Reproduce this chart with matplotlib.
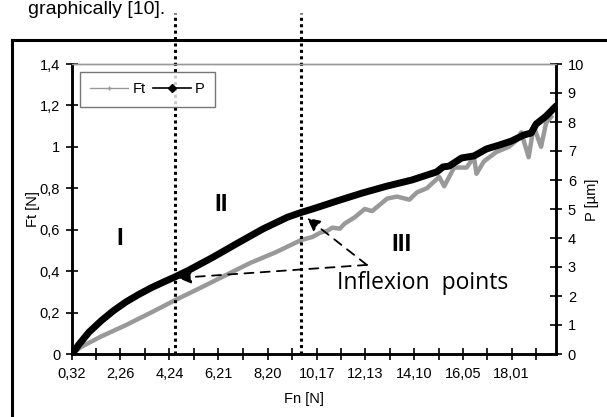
import matplotlib.pyplot as plt
from matplotlib.lines import Line2D
import numpy as np

plt.rcParams['font.family'] = ['Liberation Sans', 'DejaVu Sans']

# Data
fn_p = [0.32, 0.6, 1.0, 1.5, 2.0, 2.5, 3.0, 3.5, 4.0, 4.47, 5.0, 6.0, 7.0, 8.0, 9.0, 9.54,
        10.0, 11.0, 12.0, 13.0, 14.0, 15.0, 15.25, 15.5, 16.0, 16.5, 17.0, 17.5, 18.0,
        18.5, 18.8, 19.0, 19.4, 19.8]
p_um = [0.0, 0.33, 0.75, 1.15, 1.5, 1.8, 2.05, 2.28, 2.48, 2.66, 2.88, 3.34, 3.83, 4.31,
        4.72, 4.88, 5.0, 5.28, 5.55, 5.79, 6.0, 6.28, 6.45, 6.48, 6.76, 6.83, 7.07, 7.2,
        7.34, 7.55, 7.62, 7.93, 8.2, 8.55]

fn_ft = [0.32, 0.7, 1.5, 2.5, 3.5, 4.47, 5.5, 6.5, 7.5, 8.5, 9.54, 10.0, 10.3, 10.6, 10.8,
         11.1, 11.3, 11.7, 12.1, 12.4, 12.6, 13.0, 13.4, 13.9, 14.2, 14.6, 15.1, 15.3,
         15.7, 16.2, 16.5, 16.6, 16.9, 17.4, 17.9, 18.2, 18.4, 18.7, 18.9, 19.2, 19.4, 19.6]
ft_n = [0.0, 0.035, 0.085, 0.14, 0.20, 0.26, 0.32, 0.38, 0.44, 0.49, 0.55, 0.565, 0.585,
        0.595, 0.61, 0.605, 0.63, 0.66, 0.70, 0.69, 0.71, 0.75, 0.76, 0.745, 0.78, 0.80,
        0.855, 0.81, 0.90, 0.90, 0.95, 0.87, 0.93, 0.975, 1.0, 1.03, 1.07, 0.95, 1.10, 1.0,
        1.115, 1.145]

xtick_labels = ['0,32', '2,26', '4,24', '6,21', '8,20', '10,17', '12,13', '14,10', '16,05', '18,01']
xtick_vals = [0.32, 2.26, 4.24, 6.21, 8.20, 10.17, 12.13, 14.10, 16.05, 18.01]
inflexions = [4.47, 9.54]

fig = plt.figure(figsize=(6.07, 4.17), dpi=100)
ax = fig.add_axes([72 / 607, 1 - 354 / 417, 484 / 607, 290 / 417])
ax2 = ax.twinx()

gray = '#999999'
ax.plot(fn_ft, ft_n, color=gray, lw=3.2, solid_joinstyle='round')
ax2.plot(fn_p, p_um, color='black', lw=5, solid_capstyle='round', solid_joinstyle='round')

ax.set_xlim(0.32, 19.8)
ax.set_ylim(0, 1.4)
ax2.set_ylim(0, 10)

# ticks: one unlabelled tick between each labelled one
ticks, labels = [], []
for i, v in enumerate(xtick_vals):
    ticks.append(v)
    labels.append(xtick_labels[i])
    nxt = xtick_vals[i + 1] if i + 1 < len(xtick_vals) else v + 1.96
    ticks.append((v + nxt) / 2)
    labels.append('')
ax.set_xticks(ticks)
ax.set_xticklabels(labels)
ax.set_yticks(np.arange(0, 1.41, 0.2))
ax.set_yticklabels(['0', '0,2', '0,4', '0,6', '0,8', '1', '1,2', '1,4'])
ax2.set_yticks(range(0, 11))

fs = 10.5
for a in (ax, ax2):
    a.tick_params(direction='inout', length=9, width=1.2, labelsize=fs, pad=4)
    for s in ('left', 'right', 'bottom'):
        a.spines[s].set_linewidth(1.8)
    a.spines['top'].set_color('#999999')
    a.spines['top'].set_linewidth(1)
ax.tick_params(axis='x', pad=5)

ax.set_ylabel('Ft [N]', fontsize=fs)
ax.yaxis.label.set_va('center')
ax.yaxis.set_label_coords(-0.08, 0.50)
ax.set_xlabel('Fn [N]', fontsize=fs)
ax.xaxis.label.set_va('center')
ax.xaxis.set_label_coords(0.48, -0.155)
ax2.set_ylabel('P [µm]', fontsize=fs)
ax2.yaxis.label.set_va('center')
ax2.yaxis.set_label_coords(1.074, 0.53)

handles = [Line2D([], [], color=gray, lw=1, marker='+', markersize=3),
           Line2D([], [], color='black', lw=1.2, marker='D', markersize=4)]
leg = ax2.legend(handles, ['Ft', 'P'], ncol=2, loc='upper left',
                 bbox_to_anchor=(0.0165, 0.972), borderaxespad=0, fancybox=False,
                 edgecolor='#555555', fontsize=fs, handlelength=2.6, columnspacing=0.5,
                 handletextpad=0.3, borderpad=0.7)
leg.get_frame().set_linewidth(1)

# vertical dotted lines marking inflexions
for xv in inflexions:
    ax2.axvline(xv, ymin=0, ymax=(354 - 13) / 290, color='black', lw=2.2,
                ls=(0, (1, 1.1)), clip_on=False)

# stage labels
for txt, xv, yv in [('I', 2.23, 0.56), ('II', 6.33, 0.72), ('III', 13.6, 0.53)]:
    ax2.text(xv, yv, txt, transform=ax.transData, fontsize=17.5, fontweight='bold',
             ha='center', va='center')

# inflexion points arrows
tail = (12.19, 0.43)
for tip in [(4.59, 0.367), (9.78, 0.657)]:
    ax2.annotate('', xy=tip, xycoords=ax.transData, xytext=tail, textcoords=ax.transData,
                 arrowprops=dict(arrowstyle='-|>', color='black', lw=1.3, ls=(0, (5, 4)),
                                 mutation_scale=19, shrinkA=0, shrinkB=0))
ax2.text(14.45, 0.343, 'Inflexion  points', transform=ax.transData, fontsize=16.5,
         family=['Open Sans', 'DejaVu Sans'], ha='center', va='center')

# outer frame and caption line above it
fig.add_artist(Line2D([12 / 607, 12 / 607], [0, 1 - 40 / 417], color='black', lw=2.2))
fig.add_artist(Line2D([12 / 607, 1], [1 - 40 / 417, 1 - 40 / 417], color='black', lw=2.2))
fig.text(28 / 607, 1 - 1 / 417, 'graphically [10].', fontsize=14, va='top', ha='left')

fig.savefig('out.png', dpi=100)
